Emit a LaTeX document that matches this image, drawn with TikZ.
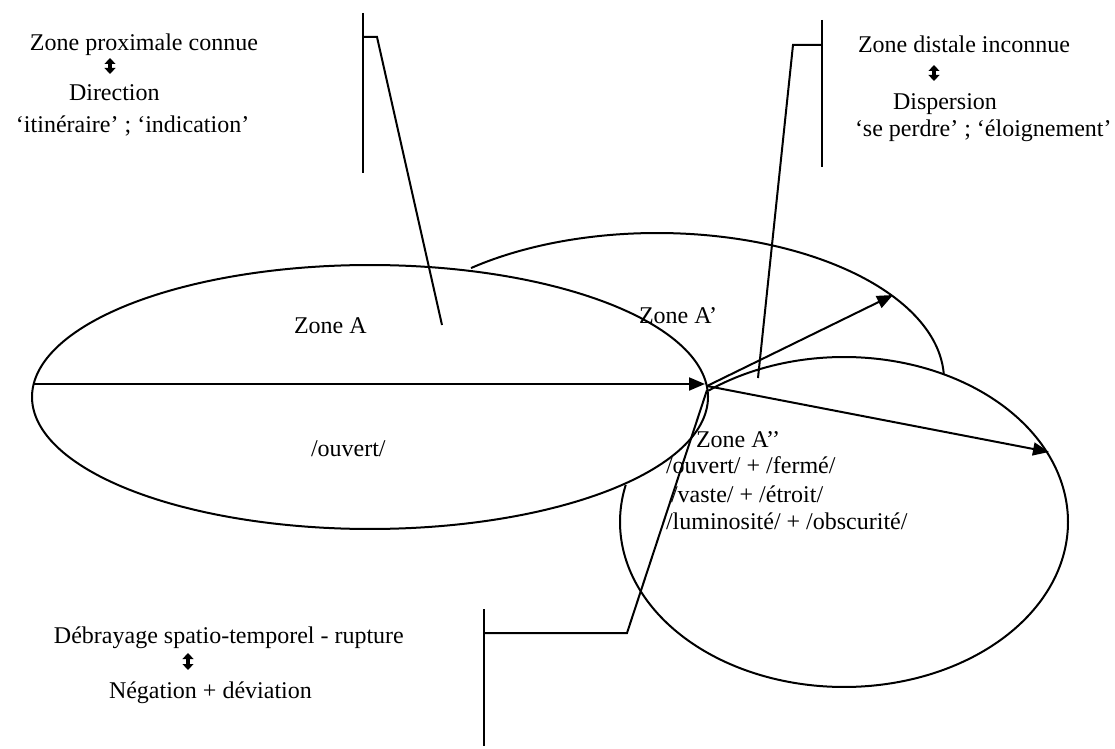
\documentclass[tikz,border=0pt]{standalone}
\usepackage{fontspec}
\setmainfont{Liberation Serif}
\usetikzlibrary{arrows.meta}
\begin{document}
\begin{tikzpicture}[x=0.5pt,y=-0.5pt, line width=1pt,
  lbl/.style={anchor=base west, inner sep=0pt, font=\fontsize{12}{14}\selectfont},
  arr/.style={-{Triangle[length=8pt,width=6.5pt]}},
  dbl/.style={{Triangle[length=3pt,width=5.4pt]}-{Triangle[length=3pt,width=5.4pt]}, line width=1.8pt}]

\useasboundingbox (0,0) rectangle (1115,749);

% zone outlines
\draw plot[domain=0:360, samples=240, variable=\t] ({370+338*cos(\t)},{397+132*sin(\t)}) -- cycle;
\draw plot[domain=-130.4:-2, samples=120, variable=\t] ({657+287*cos(\t)},{380+147*sin(\t)});
\draw plot[domain=-127.3:193, samples=240, variable=\t] ({844+224*cos(\t)},{522+165*sin(\t)});

% arrows
\coordinate (hs) at (33,384);
\coordinate (ht) at (705,384);
\coordinate (o) at (707,386);
\coordinate (tA1) at (893,295);
\coordinate (tA2) at (1049,452);
\draw[arr] (hs) -- (ht);
\draw[arr] (o) -- (tA1);
\draw[arr] (o) -- (tA2);

% callout 1
\coordinate (c1a) at (363,13);
\coordinate (c1b) at (363,173);
\coordinate (c1k) at (363,37);
\coordinate (c1e) at (377,37);
\coordinate (c1t) at (442,325);
\draw (c1a) -- (c1b);
\draw (c1k) -- (c1e) -- (c1t);

% callout 2
\coordinate (c2a) at (822,20);
\coordinate (c2b) at (822,167);
\coordinate (c2k) at (822,45);
\coordinate (c2e) at (793,45);
\coordinate (c2t) at (758,378);
\draw (c2a) -- (c2b);
\draw (c2k) -- (c2e) -- (c2t);

% callout 3
\coordinate (c3a) at (484,609);
\coordinate (c3b) at (484,746);
\coordinate (c3k) at (484,633);
\coordinate (c3e) at (627,633);
\coordinate (c3t) at (707,390);
\draw (c3a) -- (c3b);
\draw (c3k) -- (c3e) -- (c3t);

% texts block 1
\node[lbl] (p1) at (29,51) {Zone proximale connue};
\coordinate (d1a) at (110,58);
\coordinate (d1b) at (110,74);
\draw[dbl] (d1a) -- (d1b);
\node[lbl] (p2) at (68,101) {Direction};
\node[lbl] (p3) at (15,133) {‘itinéraire’ ; ‘indication’};

% texts block 2
\node[lbl] (q1) at (857,53) {Zone distale inconnue};
\coordinate (d2a) at (934,65);
\coordinate (d2b) at (934,81);
\draw[dbl] (d2a) -- (d2b);
\node[lbl] (q2) at (892,110) {Dispersion};
\node[lbl] (q3) at (854,137) {‘se perdre’ ; ‘éloignement’};

% texts block 3
\node[lbl] (r1) at (53,643) {Débrayage spatio-temporel - rupture};
\coordinate (d3a) at (188,653);
\coordinate (d3b) at (188,670);
\draw[dbl] (d3a) -- (d3b);
\node[lbl] (r2) at (108,698) {Négation + déviation};

% zone texts
\node[lbl] (zA) at (293,333) {Zone A};
\node[lbl] (zAo) at (310,456) {/ouvert/};
\node[lbl] (zA1) at (638,323) {Zone A’};
\node[lbl] (zA2) at (695,447) {Zone A’’};
\node[lbl] (zA2a) at (665,473) {/ouvert/ + /fermé/};
\node[lbl] (zA2b) at (670,502) {/vaste/ + /étroit/};
\node[lbl] (zA2c) at (665,529) {/luminosité/ + /obscurité/};
\end{tikzpicture}
\end{document}
